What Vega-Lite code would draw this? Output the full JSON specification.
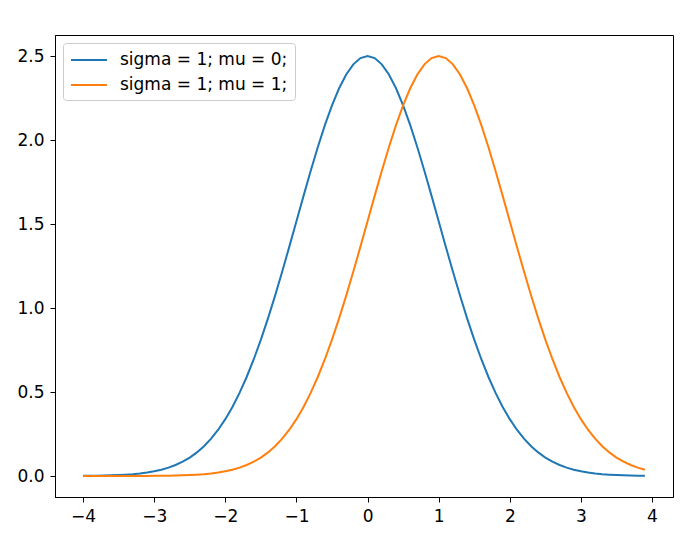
{
  "$schema": "https://vega.github.io/schema/vega-lite/v6.json",
  "width": 618,
  "height": 462,
  "autosize": "none",
  "padding": {"left": 55, "top": 35, "right": 12, "bottom": 39},
  "background": "white",
  "config": {
    "view": {"stroke": "black", "strokeWidth": 1},
    "axis": {
      "grid": false,
      "domainColor": "black",
      "tickColor": "black",
      "tickSize": 5,
      "labelFont": "DejaVu Sans",
      "labelFontSize": 17,
      "labelColor": "black",
      "labelPadding": 6,
      "title": null
    },
    "legend": {
      "labelFont": "DejaVu Sans",
      "labelFontSize": 17,
      "labelColor": "black",
      "labelLimit": 400
    }
  },
  "data": {
    "values": [
      {"x": -4.0, "a": 0.00084, "b": 0.00001},
      {"x": -3.9, "a": 0.00125, "b": 0.00002},
      {"x": -3.8, "a": 0.00183, "b": 0.00002},
      {"x": -3.7, "a": 0.00266, "b": 0.00004},
      {"x": -3.6, "a": 0.00383, "b": 0.00006},
      {"x": -3.5, "a": 0.00547, "b": 0.0001},
      {"x": -3.4, "a": 0.00772, "b": 0.00016},
      {"x": -3.3, "a": 0.0108, "b": 0.00024},
      {"x": -3.2, "a": 0.01494, "b": 0.00037},
      {"x": -3.1, "a": 0.02047, "b": 0.00056},
      {"x": -3.0, "a": 0.02777, "b": 0.00084},
      {"x": -2.9, "a": 0.0373, "b": 0.00125},
      {"x": -2.8, "a": 0.0496, "b": 0.00183},
      {"x": -2.7, "a": 0.0653, "b": 0.00266},
      {"x": -2.6, "a": 0.08512, "b": 0.00383},
      {"x": -2.5, "a": 0.10984, "b": 0.00547},
      {"x": -2.4, "a": 0.14034, "b": 0.00772},
      {"x": -2.3, "a": 0.17751, "b": 0.0108},
      {"x": -2.2, "a": 0.2223, "b": 0.01494},
      {"x": -2.1, "a": 0.27563, "b": 0.02047},
      {"x": -2.0, "a": 0.33834, "b": 0.02777},
      {"x": -1.9, "a": 0.41118, "b": 0.0373},
      {"x": -1.8, "a": 0.49475, "b": 0.0496},
      {"x": -1.7, "a": 0.58937, "b": 0.0653},
      {"x": -1.6, "a": 0.69509, "b": 0.08512},
      {"x": -1.5, "a": 0.81163, "b": 0.10984},
      {"x": -1.4, "a": 0.93828, "b": 0.14034},
      {"x": -1.3, "a": 1.07389, "b": 0.17751},
      {"x": -1.2, "a": 1.21688, "b": 0.2223},
      {"x": -1.1, "a": 1.36519, "b": 0.27563},
      {"x": -1.0, "a": 1.51633, "b": 0.33834},
      {"x": -0.9, "a": 1.66744, "b": 0.41118},
      {"x": -0.8, "a": 1.81537, "b": 0.49475},
      {"x": -0.7, "a": 1.95676, "b": 0.58937},
      {"x": -0.6, "a": 2.08818, "b": 0.69509},
      {"x": -0.5, "a": 2.20624, "b": 0.81163},
      {"x": -0.4, "a": 2.30779, "b": 0.93828},
      {"x": -0.3, "a": 2.38999, "b": 1.07389},
      {"x": -0.2, "a": 2.4505, "b": 1.21688},
      {"x": -0.1, "a": 2.48753, "b": 1.36519},
      {"x": 0.0, "a": 2.5, "b": 1.51633},
      {"x": 0.1, "a": 2.48753, "b": 1.66744},
      {"x": 0.2, "a": 2.4505, "b": 1.81537},
      {"x": 0.3, "a": 2.38999, "b": 1.95676},
      {"x": 0.4, "a": 2.30779, "b": 2.08818},
      {"x": 0.5, "a": 2.20624, "b": 2.20624},
      {"x": 0.6, "a": 2.08818, "b": 2.30779},
      {"x": 0.7, "a": 1.95676, "b": 2.38999},
      {"x": 0.8, "a": 1.81537, "b": 2.4505},
      {"x": 0.9, "a": 1.66744, "b": 2.48753},
      {"x": 1.0, "a": 1.51633, "b": 2.5},
      {"x": 1.1, "a": 1.36519, "b": 2.48753},
      {"x": 1.2, "a": 1.21688, "b": 2.4505},
      {"x": 1.3, "a": 1.07389, "b": 2.38999},
      {"x": 1.4, "a": 0.93828, "b": 2.30779},
      {"x": 1.5, "a": 0.81163, "b": 2.20624},
      {"x": 1.6, "a": 0.69509, "b": 2.08818},
      {"x": 1.7, "a": 0.58937, "b": 1.95676},
      {"x": 1.8, "a": 0.49475, "b": 1.81537},
      {"x": 1.9, "a": 0.41118, "b": 1.66744},
      {"x": 2.0, "a": 0.33834, "b": 1.51633},
      {"x": 2.1, "a": 0.27563, "b": 1.36519},
      {"x": 2.2, "a": 0.2223, "b": 1.21688},
      {"x": 2.3, "a": 0.17751, "b": 1.07389},
      {"x": 2.4, "a": 0.14034, "b": 0.93828},
      {"x": 2.5, "a": 0.10984, "b": 0.81163},
      {"x": 2.6, "a": 0.08512, "b": 0.69509},
      {"x": 2.7, "a": 0.0653, "b": 0.58937},
      {"x": 2.8, "a": 0.0496, "b": 0.49475},
      {"x": 2.9, "a": 0.0373, "b": 0.41118},
      {"x": 3.0, "a": 0.02777, "b": 0.33834},
      {"x": 3.1, "a": 0.02047, "b": 0.27563},
      {"x": 3.2, "a": 0.01494, "b": 0.2223},
      {"x": 3.3, "a": 0.0108, "b": 0.17751},
      {"x": 3.4, "a": 0.00772, "b": 0.14034},
      {"x": 3.5, "a": 0.00547, "b": 0.10984},
      {"x": 3.6, "a": 0.00383, "b": 0.08512},
      {"x": 3.7, "a": 0.00266, "b": 0.0653},
      {"x": 3.8, "a": 0.00183, "b": 0.0496},
      {"x": 3.9, "a": 0.00125, "b": 0.0373}
    ]
  },
  "transform": [{"fold": ["a", "b"], "as": ["series", "y"]}],
  "mark": {"type": "line", "strokeWidth": 2, "clip": true},
  "encoding": {
    "x": {
      "field": "x",
      "type": "quantitative",
      "scale": {"domain": [-4.395, 4.295], "nice": false, "zero": false},
      "axis": {"values": [-4, -3, -2, -1, 0, 1, 2, 3, 4], "format": "d"}
    },
    "y": {
      "field": "y",
      "type": "quantitative",
      "scale": {"domain": [-0.125, 2.625], "nice": false, "zero": false},
      "axis": {"values": [0, 0.5, 1, 1.5, 2, 2.5], "format": ".1f"}
    },
    "color": {
      "field": "series",
      "type": "nominal",
      "scale": {"domain": ["a", "b"], "range": ["#1f77b4", "#ff7f0e"]},
      "legend": {
        "title": null,
        "orient": "top-left",
        "offset": 8,
        "labelExpr": "datum.label == 'a' ? 'sigma = 1; mu = 0;' : 'sigma = 1; mu = 1;'",
        "labelLimit": 400,
        "symbolType": "M-2,0L2,0",
        "symbolSize": 324,
        "symbolStrokeWidth": 2,
        "symbolOffset": 9,
        "strokeColor": "#cccccc",
        "fillColor": "white",
        "cornerRadius": 3,
        "padding": 7,
        "rowPadding": 7,
        "labelOffset": 21
      }
    }
  }
}
